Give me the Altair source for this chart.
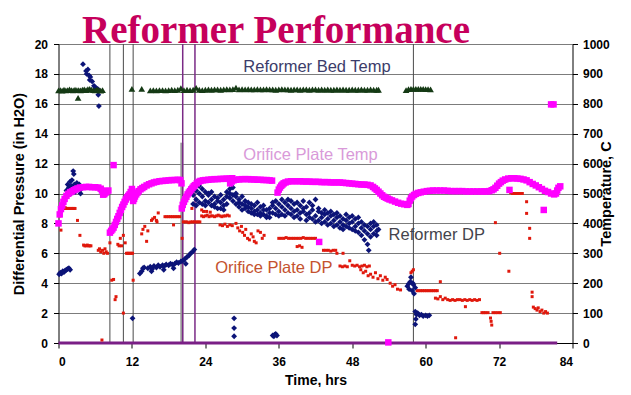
import altair as alt
import pandas as pd

# ---------------- data ----------------
chart_title = "Reformer Performance"
hour_ticks = [0, 12, 24, 36, 48, 60, 72, 84]
dp_ticks = [0, 2, 4, 6, 8, 10, 12, 14, 16, 18, 20]
temp_ticks = [0, 100, 200, 300, 400, 500, 600, 700, 800, 900, 1000]

# Reformer Bed Temp (deg C)  -> right axis
bed_points = [
    (0.0, 845), (0.3, 846), (0.6, 844), (0.9, 847), (1.2, 845), (1.5, 846), (1.8, 848), (2.1, 846),
    (2.4, 845), (2.7, 847), (3.0, 846), (3.2, 820), (3.3, 846), (3.6, 845), (3.9, 847), (4.2, 848),
    (4.5, 846), (4.8, 849), (5.1, 850), (5.4, 847), (5.7, 846), (6.0, 845), (6.3, 848), (6.6, 846),
    (6.9, 844), (7.2, 846),
    (12.0, 850), (13.6, 850),
    (15.0, 845), (15.5, 846), (16.0, 845), (16.5, 846), (17.0, 846), (17.5, 845), (18.0, 846), (18.5, 847),
    (19.0, 846), (19.5, 847), (20.0, 852), (20.5, 846), (21.0, 847), (21.5, 846), (22.0, 847), (22.5, 853),
    (23.0, 847), (23.5, 846), (24.0, 847), (24.5, 848), (25.0, 847), (25.5, 848), (26.0, 848), (26.5, 847),
    (27.0, 848), (27.5, 849), (28.0, 848), (28.5, 849), (29.0, 854), (29.5, 848), (30.0, 849), (30.5, 848),
    (31.0, 849), (31.5, 848), (32.0, 848), (32.5, 849), (33.0, 848), (33.5, 848), (34.0, 849), (34.5, 848),
    (35.0, 848), (35.5, 847), (36.0, 848), (36.5, 849), (37.0, 848), (37.5, 848), (38.0, 847), (38.5, 848),
    (39.0, 848), (39.5, 847), (40.0, 848), (40.5, 848), (41.0, 847), (41.5, 848), (42.0, 848), (42.5, 847),
    (43.0, 848), (43.5, 847), (44.0, 848), (44.5, 847), (45.0, 847), (45.5, 848), (46.0, 847), (46.5, 848),
    (47.0, 847), (47.5, 847), (48.0, 848), (48.5, 847), (49.0, 847), (49.5, 848), (50.0, 847), (50.5, 847),
    (51.0, 848), (51.5, 847), (52.0, 847), (52.3, 847),
    (56.8, 846), (57.2, 849), (57.6, 850), (58.0, 850), (58.4, 850), (58.8, 850), (59.2, 850), (59.6, 850),
    (60.0, 849), (60.4, 849), (60.8, 848),
]

# Orifice Plate Temp (deg C) -> right axis
opt_points = [
    (0.0, 400), (0.2, 430), (0.4, 448), (0.6, 460), (0.8, 472), (1.0, 482), (1.3, 492), (1.6, 499),
    (1.9, 504), (2.2, 507), (2.5, 511), (2.8, 514), (3.1, 517), (3.5, 520), (4.0, 521), (4.5, 522),
    (5.0, 522), (5.5, 521), (6.0, 521), (6.5, 520), (6.9, 516), (7.1, 510), (7.3, 496), (7.5, 498),
    (7.7, 503), (7.9, 507), (8.15, 510),
    (8.4, 369), (8.6, 375), (8.8, 380), (9.0, 386), (9.2, 395), (9.4, 405), (9.6, 415), (9.8, 424),
    (10.0, 435), (10.2, 445), (10.4, 455), (10.6, 463), (10.8, 472), (11.0, 480), (11.2, 487), (11.4, 492),
    (11.6, 497), (11.8, 505), (12.0, 515), (12.1, 500), (12.2, 475), (12.35, 482), (12.5, 490), (12.7, 497),
    (12.9, 503), (13.1, 508), (13.4, 514), (13.7, 518), (14.0, 522), (14.4, 527), (14.8, 531), (15.2, 534),
    (15.6, 537), (16.0, 539), (16.5, 541), (17.0, 542), (17.5, 543), (18.0, 544), (18.5, 545), (19.0, 545),
    (19.5, 546), (19.9, 545), (20.1, 534),
    (20.15, 450), (20.3, 462), (20.5, 472), (20.7, 481), (20.9, 489), (21.1, 497), (21.3, 503), (21.5, 508),
    (21.7, 514), (21.9, 519), (22.1, 524), (22.3, 528), (22.6, 534), (22.9, 539), (23.2, 542), (23.6, 544),
    (24.0, 545), (24.5, 546), (25.0, 547), (25.5, 548), (26.0, 548), (26.5, 549), (27.0, 549), (27.5, 550),
    (28.0, 550), (28.4, 551),
    (28.05, 534), (28.3, 540), (28.6, 544), (29.0, 546), (29.5, 547), (30.0, 548), (30.5, 548), (31.0, 548),
    (31.5, 547), (32.0, 547), (32.5, 546), (33.0, 546), (33.5, 545), (34.0, 545), (34.5, 544), (34.9, 543),
    (35.8, 503), (36.0, 513), (36.2, 520), (36.4, 526), (36.6, 530), (36.8, 534), (37.1, 537), (37.5, 540),
    (38.0, 541), (38.5, 541), (39.0, 541), (39.5, 541), (40.0, 540), (40.5, 540), (41.0, 540), (41.5, 539),
    (42.0, 539), (42.5, 539), (43.0, 538), (43.5, 538), (44.0, 538), (44.5, 537), (45.0, 537), (45.5, 537),
    (46.0, 537), (46.5, 536), (47.0, 535), (47.5, 534), (48.0, 533), (48.5, 532), (49.0, 531), (49.5, 530),
    (50.0, 530), (50.5, 529), (51.0, 527), (51.4, 522), (51.7, 517), (52.0, 512), (52.3, 506), (52.6, 500),
    (52.9, 494), (53.2, 489), (53.5, 486), (53.8, 483), (54.1, 480), (54.5, 477), (55.0, 473), (55.5, 469),
    (56.0, 466), (56.5, 464), (57.0, 462), (57.2, 465), (57.4, 476), (57.6, 484), (57.8, 490), (58.1, 495),
    (58.4, 499), (58.8, 502), (59.2, 504), (59.7, 506), (60.2, 508), (60.7, 509), (61.2, 510), (61.8, 510),
    (62.4, 510), (63.0, 510), (63.6, 509), (64.2, 508), (64.8, 508), (65.4, 508), (66.0, 508), (66.6, 507),
    (67.2, 507), (67.8, 507), (68.4, 507), (69.0, 507), (69.5, 507), (70.0, 507), (70.4, 508), (70.8, 511),
    (71.1, 514), (71.4, 519), (71.7, 526), (72.0, 533), (72.3, 538), (72.6, 543), (73.0, 547), (73.5, 550),
    (74.0, 551), (74.5, 551), (75.0, 550), (75.5, 549), (76.0, 547), (76.5, 544), (77.0, 538), (77.5, 532),
    (78.0, 527), (78.5, 521), (79.0, 515), (79.5, 509), (80.0, 505), (80.5, 500), (81.0, 497), (81.3, 500),
    (81.5, 510), (81.7, 519), (82.0, 524),
    (9.0, 595), (42.6, 338), (73.7, 512), (79.3, 445), (80.5, 798), (80.9, 798), (53.9, 2),
]

# Reformer DP (in H2O) -> left axis
rdp_points = [
    (0.1, 4.6), (0.3, 4.7), (0.5, 4.65), (0.7, 4.8), (0.9, 4.75), (1.1, 4.85), (1.3, 4.9), (1.5, 4.95),
    (1.7, 5.0), (1.9, 4.9),
    (1.3, 10.2), (1.5, 10.6), (1.7, 10.4), (1.9, 10.8), (2.0, 10.0), (2.1, 10.5), (2.2, 10.9), (2.4, 11.5),
    (2.5, 11.3), (2.6, 10.6), (2.7, 10.1), (2.8, 10.4), (3.0, 10.7), (3.2, 10.5), (3.4, 10.6), (3.6, 10.0),
    (3.7, 10.3),
    (4.0, 18.65), (4.5, 18.2), (4.6, 18.0), (4.8, 18.3), (5.0, 17.9), (5.1, 17.6), (5.2, 17.8), (5.5, 17.5),
    (5.8, 17.2), (6.0, 17.1), (6.2, 16.9), (6.4, 17.0), (6.5, 16.6), (6.6, 15.85),
    (12.1, 1.65),
    (13.3, 4.65), (13.6, 4.8), (13.8, 5.0), (14.0, 5.05), (14.6, 5.0), (15.0, 5.1), (15.2, 4.8), (15.3, 4.95),
    (15.6, 5.15), (16.0, 5.05), (16.3, 5.2), (16.6, 5.1), (17.0, 5.2), (17.2, 4.9), (17.3, 5.15), (17.6, 5.25),
    (18.0, 5.2), (18.3, 5.3), (18.6, 5.25), (18.8, 5.0), (19.0, 5.3), (19.3, 5.4), (19.6, 5.35), (20.0, 5.45),
    (20.3, 5.5), (20.6, 5.6), (20.8, 5.3), (21.0, 5.75), (21.3, 5.85), (21.6, 6.0), (21.9, 6.1), (22.2, 6.25),
    (22.0, 9.3), (22.0, 9.9), (22.0, 10.4), (22.5, 9.6), (22.5, 10.2), (22.5, 9.2), (23.0, 10.0), (23.0, 9.4),
    (23.0, 10.5), (23.5, 9.8), (23.5, 9.3), (23.5, 10.3), (24.0, 9.5), (24.0, 10.1), (24.0, 9.2), (24.5, 9.9),
    (24.5, 9.4), (24.5, 10.0), (25.0, 9.6), (25.0, 9.2), (25.0, 10.1), (25.5, 9.3), (25.5, 9.8), (25.5, 9.1),
    (26.0, 9.7), (26.0, 9.0), (26.0, 9.5), (26.5, 9.4), (26.5, 9.9), (26.5, 9.0), (27.0, 9.2), (27.0, 9.6),
    (27.0, 8.9), (27.5, 9.8), (27.5, 10.1), (27.5, 9.3), (28.0, 10.3), (28.0, 9.7), (28.0, 10.0), (28.5, 10.4),
    (28.5, 9.5), (28.5, 9.9), (29.0, 9.8), (29.0, 9.3), (29.0, 10.0), (29.5, 9.6), (29.5, 9.1), (29.5, 9.4),
    (30.0, 9.3), (30.0, 9.8), (30.0, 8.9), (30.5, 9.5), (30.5, 9.0), (30.5, 9.2), (31.0, 9.1), (31.0, 8.8),
    (31.0, 9.4), (31.5, 9.0), (31.5, 9.3), (31.5, 8.7), (32.0, 8.8), (32.0, 9.2), (32.0, 8.6), (32.5, 8.9),
    (32.5, 9.4), (32.5, 8.6), (33.0, 8.7), (33.0, 9.1), (33.0, 8.5), (33.5, 9.2), (33.5, 8.6), (33.5, 8.9),
    (34.0, 8.5), (34.0, 8.9), (34.0, 8.4), (34.5, 8.7), (34.5, 9.0), (34.5, 8.4), (35.0, 9.2), (35.0, 8.7),
    (35.0, 9.4), (35.5, 9.0), (35.5, 8.6), (35.5, 9.5), (36.0, 8.8), (36.0, 9.3), (36.0, 8.5), (36.5, 9.1),
    (36.5, 8.6), (36.5, 9.6), (37.0, 8.9), (37.0, 9.4), (37.0, 8.5), (37.5, 9.2), (37.5, 8.7), (37.5, 9.6),
    (38.0, 8.6), (38.0, 9.0), (38.0, 9.5), (38.5, 9.3), (38.5, 8.8), (38.5, 8.4), (39.0, 8.9), (39.0, 9.4),
    (39.0, 8.5), (39.5, 8.7), (39.5, 9.2), (39.5, 8.3), (40.0, 9.5), (40.0, 8.8), (40.0, 9.0), (40.5, 8.6),
    (40.5, 9.1), (40.5, 8.2), (41.0, 9.4), (41.0, 8.7), (41.0, 8.4), (41.5, 8.9), (41.5, 8.3), (41.5, 9.2),
    (42.0, 8.5), (42.0, 9.6), (42.0, 8.1), (42.5, 8.8), (42.5, 8.2), (42.5, 9.0), (43.0, 8.4), (43.0, 8.7),
    (43.0, 8.0), (43.5, 8.6), (43.5, 8.1), (43.5, 8.9), (44.0, 8.3), (44.0, 7.9), (44.0, 8.7), (44.5, 8.5),
    (44.5, 8.0), (44.5, 8.8), (45.0, 8.2), (45.0, 7.8), (45.0, 8.6), (45.5, 7.9), (45.5, 8.4), (45.5, 8.7),
    (46.0, 8.1), (46.0, 7.7), (46.0, 8.5), (46.5, 7.9), (46.5, 8.3), (46.5, 7.6), (47.0, 8.2), (47.0, 7.8),
    (47.0, 8.6), (47.5, 7.7), (47.5, 8.0), (47.5, 8.4), (48.0, 8.1), (48.0, 7.6), (48.0, 8.5), (48.5, 7.8),
    (48.5, 8.3), (48.5, 7.5), (49.0, 8.0), (49.0, 7.4), (49.0, 8.4), (49.5, 7.7), (49.5, 7.2), (49.5, 8.1),
    (50.0, 7.5), (50.0, 7.9), (50.0, 6.9), (50.5, 7.3), (50.5, 7.8), (50.5, 6.6), (50.7, 6.2), (51.0, 7.6),
    (51.0, 7.1), (51.0, 8.0), (51.5, 7.3), (51.5, 7.8), (51.5, 8.1), (52.0, 7.5), (52.0, 7.2), (52.0, 7.9),
    (52.3, 7.6),
    (28.7, 1.65), (28.7, 1.0), (28.7, 0.45), (35.0, 0.5), (35.2, 0.45), (35.3, 0.55), (35.5, 0.6), (35.7, 0.5),
    (57.0, 3.8), (57.2, 3.95), (57.3, 3.6), (57.5, 4.1), (57.6, 4.4), (57.8, 3.5), (57.9, 4.0), (58.0, 3.9),
    (58.1, 3.3), (58.3, 3.7),
    (58.3, 2.1), (58.3, 1.25), (58.4, 1.6), (58.5, 1.9), (58.7, 2.0), (59.0, 1.85), (59.3, 1.9), (59.6, 1.8),
    (60.0, 1.85), (60.3, 1.8), (60.6, 1.85),
]

# Orifice Plate DP (in H2O) -> left axis
odp_points = [
    (0.25, 8.5), (0.4, 7.55), (0.3, 9.0), (0.5, 9.0), (0.7, 9.0), (0.9, 9.0), (1.1, 9.05), (1.3, 9.0),
    (1.5, 9.0), (1.7, 9.0), (1.9, 9.0), (2.1, 9.0), (2.3, 9.0), (2.5, 9.0), (2.7, 9.0),
    (3.1, 8.2), (3.5, 7.2), (4.1, 6.55), (4.3, 6.5), (4.5, 6.5), (4.7, 6.55), (4.9, 6.5), (5.1, 6.5), (5.3, 6.5),
    (6.5, 6.2), (6.7, 6.3), (6.9, 6.1), (7.2, 6.2), (7.4, 6.0), (7.6, 6.3), (7.8, 6.1), (8.0, 6.0), (7.1, 0.2),
    (8.4, 6.7), (8.7, 4.2), (9.0, 4.25), (9.25, 2.9), (9.4, 3.1), (10.6, 2.0), (9.7, 6.6), (9.9, 6.5),
    (10.1, 7.0), (10.3, 6.5), (10.6, 7.2), (10.9, 6.7),
    (11.1, 6.0), (11.3, 6.0), (11.5, 6.0), (11.7, 6.0), (11.9, 6.0), (12.1, 6.0), (12.2, 4.2),
    (13.6, 7.3), (13.8, 7.6), (14.1, 7.8), (14.4, 6.8), (14.6, 7.5),
    (15.2, 8.2), (15.4, 8.3), (15.7, 8.4), (16.0, 8.2), (16.1, 8.1), (16.3, 8.7),
    (17.4, 8.45), (17.7, 8.45), (18.0, 8.45), (18.3, 8.45), (18.6, 8.45), (18.9, 8.45), (19.2, 8.45),
    (19.5, 8.45), (19.8, 8.45), (18.8, 7.9),
    (20.2, 7.0), (20.4, 8.1), (20.7, 8.1), (21.0, 8.1), (21.3, 8.05), (21.6, 8.1), (21.9, 8.1), (22.2, 8.1),
    (22.5, 8.1), (22.8, 8.1), (23.1, 8.1), (21.8, 9.0), (23.4, 8.9),
    (23.4, 8.5), (23.7, 8.45), (24.0, 8.5), (24.3, 8.55), (24.6, 8.45), (24.9, 8.5), (25.2, 8.5), (25.5, 8.45),
    (25.8, 8.5), (26.1, 8.55), (26.4, 8.5), (26.7, 8.45), (27.0, 8.5), (27.3, 8.5), (27.6, 8.55), (27.9, 8.5),
    (23.7, 8.8), (24.2, 8.8), (24.8, 8.75),
    (26.4, 7.9), (26.8, 7.85), (27.2, 7.95), (27.6, 7.8), (28.0, 7.9), (28.4, 7.85),
    (29.0, 8.0), (29.3, 7.7), (29.6, 7.5), (29.9, 7.8), (30.1, 7.4), (30.4, 7.2), (30.6, 7.6), (30.9, 7.0),
    (31.2, 6.9), (31.5, 7.3), (31.8, 7.1), (32.0, 6.8), (32.3, 6.7), (32.6, 7.5), (33.0, 7.4), (33.3, 7.0),
    (33.6, 7.2),
    (36.0, 7.0), (36.4, 7.0), (36.8, 7.0), (37.2, 7.05), (37.6, 7.0), (38.0, 7.0), (38.4, 7.0), (38.8, 7.0),
    (39.2, 7.0), (39.6, 7.0), (40.0, 7.05), (40.4, 7.0), (40.8, 7.0), (41.2, 7.0), (41.6, 7.0), (42.0, 7.0),
    (39.0, 6.45), (39.4, 6.5), (39.8, 6.4),
    (43.3, 6.2), (43.7, 6.2), (44.1, 6.2), (44.5, 6.15), (44.9, 6.2), (45.3, 6.2), (45.5, 6.0), (46.5, 6.0),
    (46.0, 5.15), (46.4, 5.1), (46.8, 5.15), (47.2, 5.1), (47.6, 5.5), (48.0, 5.2), (48.4, 5.15), (48.8, 5.2),
    (49.2, 5.1), (49.6, 5.15), (50.0, 5.2), (50.4, 5.1), (50.8, 5.15),
    (49.4, 4.9), (49.8, 4.7), (50.2, 4.8), (50.6, 4.5), (51.0, 4.6), (51.4, 4.4), (51.8, 4.7), (52.2, 4.3),
    (52.6, 4.5), (53.0, 4.2), (53.4, 4.4), (53.7, 4.25),
    (54.2, 4.0), (54.6, 3.8), (55.0, 3.9), (55.4, 3.6), (55.9, 3.55),
    (57.6, 4.7), (57.8, 4.8), (58.0, 4.9),
    (58.6, 3.5), (58.9, 3.5), (59.2, 3.5), (59.5, 3.5), (59.8, 3.5), (60.1, 3.5), (60.4, 3.5), (60.7, 3.5),
    (61.0, 3.5), (61.3, 3.5), (61.6, 3.5), (61.9, 3.5), (62.4, 4.1),
    (61.6, 3.0), (62.0, 2.95), (62.4, 3.1), (62.8, 2.9), (63.2, 3.0), (63.6, 2.9), (64.0, 2.85), (64.4, 2.9),
    (64.8, 2.85), (65.2, 2.9), (65.6, 2.9), (66.0, 2.85), (66.4, 2.9), (66.8, 2.85), (67.2, 2.9), (67.6, 2.85),
    (68.0, 2.9), (68.4, 2.85), (68.8, 2.9), (66.5, 2.43), (64.9, 0.35),
    (69.2, 2.03), (69.5, 2.03), (69.8, 2.03), (70.2, 2.03), (71.0, 2.03), (71.4, 2.03), (71.8, 2.03),
    (72.2, 2.03), (70.6, 1.67), (70.7, 1.45), (70.8, 1.2),
    (71.4, 8.05), (72.1, 6.0), (73.6, 4.8),
    (72.4, 10.8), (72.7, 10.85), (73.0, 10.8),
    (73.9, 10.05), (74.2, 10.0), (74.5, 10.0), (74.8, 10.0), (75.1, 10.0), (75.4, 10.0), (75.8, 10.0),
    (76.5, 9.45), (76.5, 8.67), (77.0, 7.67), (77.0, 7.0),
    (77.4, 3.1), (77.4, 3.4),
    (77.6, 2.4), (77.9, 2.3), (78.2, 2.2), (78.4, 2.35), (78.7, 2.1), (79.0, 2.2), (79.3, 2.0), (79.6, 2.1),
    (79.9, 2.0),
]

# vertical event lines (hours)
event_gray_x = [8.4, 10.6, 12.2, 58.0]
event_purple_x = [20.3, 22.3]
event_bar = [(20.15, 0.0, 13.4)]      # x, from, to (left-axis units)
zero_run = [(0.0, 81.5, 0.0)]         # x from, x to, value

series_labels = ["Reformer Bed Temp", "Orifice Plate Temp", "Reformer DP", "Orifice Plate DP"]
label_pos = [(30.2, 18.15), (30.2, 12.24), (53.95, 6.89), (25.6, 4.66)]

# ---------------- build ----------------
FONT = "Liberation Sans"
W, H = 514, 299

bed_df = pd.DataFrame(bed_points, columns=["h", "t"])
opt_df = pd.DataFrame(opt_points, columns=["h", "t"])
rdp_df = pd.DataFrame(rdp_points, columns=["h", "dp"])
odp_df = pd.DataFrame(odp_points, columns=["h", "dp"])
gray_df = pd.DataFrame({"h": event_gray_x})
purple_df = pd.DataFrame({"h": event_purple_x})
bar_df = pd.DataFrame(event_bar, columns=["h", "dp", "dp2"])
zero_df = pd.DataFrame(zero_run, columns=["h", "h2", "dp"])
title_df = pd.DataFrame({"t": [chart_title]})

xscale = alt.Scale(domain=[0, 84], nice=False, zero=False)
xaxis = alt.Axis(values=hour_ticks, title="Time, hrs", grid=False, tickSize=5, labelPadding=8,
                 titlePadding=6, titleFontSize=14)
lscale = alt.Scale(domain=[0, 20], nice=False)
laxis = alt.Axis(values=dp_ticks, title="Differential Pressure (in H2O)", grid=True,
                 gridColor="#7c7c7c", gridWidth=1, tickSize=5, labelPadding=6, titlePadding=8)
rscale = alt.Scale(domain=[0, 1000], nice=False)
raxis = alt.Axis(values=temp_ticks, title="Temperature, C", orient="right", grid=False, format="d",
                 tickSize=5, labelPadding=5, titlePadding=4, titleAngle=270)


def X(f):
    return alt.X(f, type="quantitative", scale=xscale, axis=xaxis)


def YL(f):
    return alt.Y(f, type="quantitative", scale=lscale, axis=laxis)


def YR(f):
    return alt.Y(f, type="quantitative", scale=rscale, axis=raxis)


gray_rules = alt.Chart(gray_df).mark_rule(color="#4a4a4a", strokeWidth=1).encode(x=X("h"))
purple_rules = alt.Chart(purple_df).mark_rule(color="#7a2a86", strokeWidth=1.5).encode(x=X("h"))
bar_rule = alt.Chart(bar_df).mark_rule(color="#9a9a9a", strokeWidth=3).encode(
    x=X("h"), y=YL("dp"), y2="dp2")
zero_rule = alt.Chart(zero_df).mark_rule(color="#7a1f86", strokeWidth=3).encode(
    x=X("h"), x2="h2", y=YL("dp"))

odp = alt.Chart(odp_df).mark_point(shape="square", filled=True, size=9, opacity=1,
                                   color="#e0180c").encode(x=X("h"), y=YL("dp"))
rdp = alt.Chart(rdp_df).mark_point(shape="diamond", filled=True, size=34, opacity=1,
                                   color="#0c1478").encode(x=X("h"), y=YL("dp"))

label_colors = ["#3c3c6a", "#d99ad9", "#44444c", "#c4522e"]
texts = []
for name, (lx, ly), col in zip(series_labels, label_pos, label_colors):
    df = pd.DataFrame({"h": [lx], "dp": [ly], "label": [name]})
    texts.append(
        alt.Chart(df).mark_text(align="left", baseline="alphabetic", font=FONT, fontSize=16.5,
                                color=col).encode(x=X("h"), y=YL("dp"), text="label")
    )

title_mark = alt.Chart(title_df).mark_text(
    align="center", baseline="alphabetic", font="Liberation Serif", fontSize=39,
    fontWeight="bold", color="#c6005c").encode(x=alt.value(217.5), y=alt.value(-1), text="t")

left = alt.layer(gray_rules, bar_rule, purple_rules, zero_rule, odp, rdp, *texts, title_mark)

bed = alt.Chart(bed_df).mark_point(shape="triangle-up", filled=True, size=45, opacity=1,
                                   color="#153a15").encode(x=X("h"), y=YR("t"))
opt = alt.Chart(opt_df).mark_point(shape="square", filled=True, size=42, opacity=1,
                                   color="#ff00ff").encode(x=X("h"), y=YR("t"))
right = alt.layer(bed, opt)

chart = alt.layer(left, right).resolve_scale(y="independent").properties(
    width=W, height=H,
    autosize=alt.AutoSizeParams(type="none"),
    padding={"left": 50.5, "top": 36, "right": 50, "bottom": 44},
).configure_view(stroke=None).configure_axis(
    labelFont=FONT, labelFontSize=12, labelFontWeight="bold", labelColor="#000000",
    titleFont=FONT, titleFontSize=14.5, titleFontWeight="bold", titleColor="#000000",
    domainColor="#000000", tickColor="#000000", domainWidth=1,
)

chart.save("out.html", embed_options={"renderer": "svg", "actions": False})
